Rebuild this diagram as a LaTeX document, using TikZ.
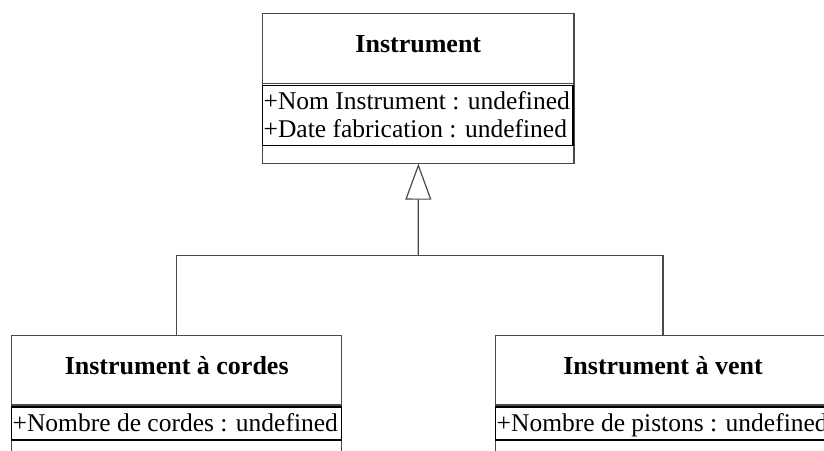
\documentclass[tikz,border=0pt]{standalone}
\usepackage{fontspec}
\setmainfont{Liberation Serif}
\usetikzlibrary{arrows.meta}
\definecolor{linegray}{HTML}{4A4A4A}
\begin{document}
\begin{tikzpicture}[x=1pt,y=-1pt,
  classbox/.style={draw=linegray, line width=1.2pt, rectangle, inner sep=0pt, outer sep=0pt},
  attrbox/.style={draw=black, line width=1.2pt, rectangle, inner sep=0pt, outer sep=0pt},
  ctitle/.style={font=\fontsize{26}{30}\selectfont\bfseries, anchor=base, inner sep=0pt},
  cattr/.style={font=\fontsize{25.5}{28}\selectfont, anchor=base west, inner sep=0pt},
  link/.style={draw=linegray, line width=1.2pt}]
\useasboundingbox (0,0) rectangle (824,450);
\clip (0,0) rectangle (824,450);
\fill[white] (0,0) rectangle (824,450);

% Instrument
\node[classbox, anchor=north west, minimum width=311.3pt, minimum height=150.4pt] (instr) at (262.7,13.3) {};
\node[attrbox, anchor=north west, minimum width=310.3pt, minimum height=60.4pt] (instrattr) at (262.7,85.3) {};
\draw[link] (262.7,83.3) coordinate (isl) -- (574,83.3) coordinate (isr);
\node[ctitle] (instrtitle) at (418.3,52) {Instrument};
\node[cattr] (instra1) at (263.5,109) {+Nom Instrument : undefined};
\node[cattr] (instra2) at (263.5,137) {+Date fabrication : undefined};

% Instrument a cordes
\node[classbox, anchor=north west, minimum width=330pt, minimum height=160pt] (cordes) at (11.7,335.7) {};
\node[attrbox, anchor=north west, minimum width=330pt, minimum height=33pt] (cordesattr) at (11.7,407) {};
\draw[link] (11.7,405) coordinate (csl) -- (341.7,405) coordinate (csr);
\node[ctitle] (cordestitle) at (176.7,374.3) {Instrument à cordes};
\node[cattr] (cordesa1) at (12.5,431.7) {+Nombre de cordes : undefined};

% Instrument a vent
\node[classbox, anchor=north west, minimum width=334.6pt, minimum height=160pt] (vent) at (495.7,335.7) {};
\node[attrbox, anchor=north west, minimum width=334.6pt, minimum height=33pt] (ventattr) at (495.7,407) {};
\draw[link] (495.7,405) coordinate (vsl) -- (830.3,405) coordinate (vsr);
\node[ctitle] (venttitle) at (663,374.3) {Instrument à vent};
\node[cattr] (venta1) at (496.5,431.7) {+Nombre de pistons : undefined};

% generalisation
\coordinate (hub) at (418.3,255.3);
\draw[link] (cordes.north) |- (hub) -| (vent.north);
\draw[link, -{Triangle[open, length=36pt, width=26pt, line width=1.2pt]}] (hub) -- (instr.south);
\end{tikzpicture}
\end{document}
